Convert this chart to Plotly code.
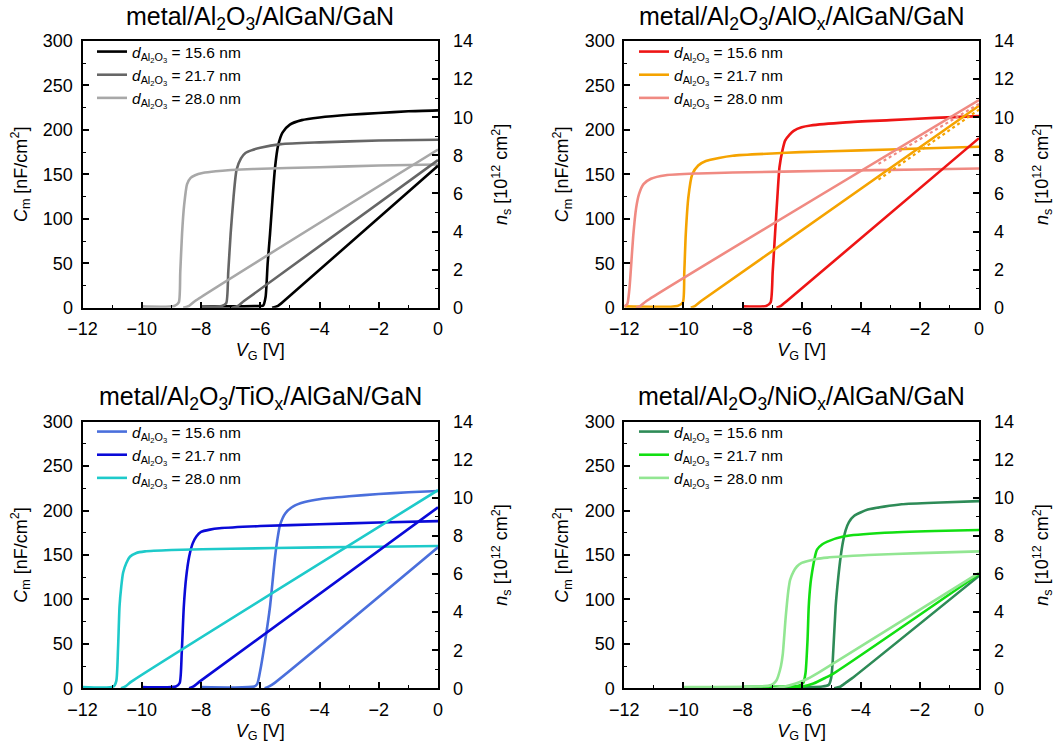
import plotly.graph_objects as go

FONT = "Liberation Sans, Arial, sans-serif"

# ---------------- data ----------------
thickness_labels = ["15.6", "21.7", "28.0"]

panel_titles = [
    "metal/Al<sub>2</sub>O<sub>3</sub>/AlGaN/GaN",
    "metal/Al<sub>2</sub>O<sub>3</sub>/AlO<sub>x</sub>/AlGaN/GaN",
    "metal/Al<sub>2</sub>O<sub>3</sub>/TiO<sub>x</sub>/AlGaN/GaN",
    "metal/Al<sub>2</sub>O<sub>3</sub>/NiO<sub>x</sub>/AlGaN/GaN",
]

# Panel 1: metal/Al2O3/AlGaN/GaN  (C in nF/cm2, ns in 1e12 cm^-2)
p1_cv_v_156 = [-8, -6.2, -5.9, -5.82, -5.75, -5.67, -5.58, -5.5, -5.4, -5.25, -5.0, -4.6, -4.0, -3.0, -2.0, -1.0, 0]
p1_cv_c_156 = [1.5, 1.8, 2.5, 12, 50, 83, 125, 158, 182, 197, 206, 211, 214, 217, 219, 221, 222]
p1_cv_v_217 = [-8, -7.3, -7.15, -7.08, -7.0, -6.9, -6.8, -6.65, -6.5, -6.3, -6.0, -5.3, -4.0, -2.0, 0]
p1_cv_c_217 = [1.5, 2, 5, 40, 83, 125, 155, 168, 174, 177, 180, 184, 186, 188, 189]
p1_cv_v_280 = [-10, -8.9, -8.75, -8.7, -8.64, -8.57, -8.47, -8.35, -8.2, -7.95, -7.5, -6.24, -4.0, -2.0, 0]
p1_cv_c_280 = [1.5, 2, 6, 40, 83, 115, 139, 146, 149, 151.5, 153.5, 156, 158, 160, 161]
p1_ns_v_156 = [-5.6, -5.4, -5.2, 0]
p1_ns_n_156 = [0, 0.1, 0.35, 7.45]
p1_ns_v_217 = [-6.95, -6.75, -6.55, 0]
p1_ns_n_217 = [0, 0.1, 0.35, 7.75]
p1_ns_v_280 = [-8.6, -8.4, -8.2, 0]
p1_ns_n_280 = [0, 0.1, 0.35, 8.3]

# Panel 2: metal/Al2O3/AlOx/AlGaN/GaN
p2_cv_v_156 = [-8, -7.2, -7.05, -6.98, -6.9, -6.82, -6.75, -6.65, -6.56, -6.4, -6.27, -6.0, -5.7, -4.5, -3.0, -1.5, 0]
p2_cv_c_156 = [1.5, 2, 6, 40, 83, 125, 158, 177, 188, 195, 199, 203, 205, 208.5, 211, 213.5, 215.5]
p2_cv_v_217 = [-12, -10.2, -10.02, -9.97, -9.92, -9.83, -9.7, -9.5, -9.24, -8.8, -8.33, -7, -6.05, -4, -2, 0]
p2_cv_c_217 = [1.5, 2, 6, 40, 83, 125, 150, 160, 165, 168.5, 171, 173.5, 175, 177, 179, 181]
p2_cv_v_280 = [-12, -11.9, -11.83, -11.78, -11.7, -11.6, -11.5, -11.35, -11.1, -10.6, -9.5, -8.33, -5, -2, 0]
p2_cv_c_280 = [1.5, 4, 20, 42, 80, 112, 128, 139, 145, 149, 151, 152, 154, 155.5, 156.5]
p2_ns_v_156 = [-6.85, -6.7, -6.5, 0]
p2_ns_n_156 = [0, 0.1, 0.35, 8.9]
p2_ns_v_217 = [-9.75, -9.6, -9.4, 0]
p2_ns_n_217 = [0, 0.1, 0.35, 10.6]
p2_ns_v_280 = [-11.6, -11.45, -11.25, 0]
p2_ns_n_280 = [0, 0.1, 0.35, 10.9]
p2_nsdot_v_217 = [-3.4, 0]
p2_nsdot_n_217 = [6.72, 10.4]
p2_nsdot_v_280 = [-3.4, 0]
p2_nsdot_n_280 = [7.55, 10.7]

# Panel 3: metal/Al2O3/TiOx/AlGaN/GaN
p3_cv_v_156 = [-8, -6.2, -6.1, -6.0, -5.85, -5.67, -5.5, -5.4, -5.33, -5.15, -4.87, -4.5, -3.96, -3, -2, -1, 0]
p3_cv_c_156 = [1.5, 2, 5, 20, 50, 92, 148, 172, 184, 197, 205, 209.5, 213, 216, 218.5, 220.5, 222]
p3_cv_v_217 = [-10, -8.85, -8.72, -8.65, -8.58, -8.5, -8.4, -8.28, -8.15, -8.0, -7.7, -7.38, -6, -4, -2, 0]
p3_cv_c_217 = [1.5, 2, 6, 40, 92, 125, 148, 163, 171, 176, 178.5, 180, 182.5, 184.5, 186.5, 188]
p3_cv_v_280 = [-12, -10.95, -10.86, -10.8, -10.75, -10.69, -10.63, -10.52, -10.4, -10.2, -9.89, -9, -7, -4, -2, 0]
p3_cv_c_280 = [1.5, 2, 8, 45, 92, 115, 130, 141, 148, 152, 154, 155.5, 157, 158.5, 159.3, 160]
p3_ns_v_156 = [-5.85, -5.7, -5.5, 0]
p3_ns_n_156 = [0, 0.1, 0.3, 7.4]
p3_ns_v_217 = [-8.4, -8.25, -8.05, 0]
p3_ns_n_217 = [0, 0.1, 0.35, 9.5]
p3_ns_v_280 = [-10.7, -10.55, -10.35, 0]
p3_ns_n_280 = [0, 0.1, 0.35, 10.4]

# Panel 4: metal/Al2O3/NiOx/AlGaN/GaN
p4_cv_v_156 = [-8, -5.3, -5.08, -5.0, -4.95, -4.85, -4.76, -4.68, -4.6, -4.51, -4.4, -4.22, -3.76, -2.62, -1.3, 0]
p4_cv_c_156 = [1.5, 2, 4, 12, 30, 92, 125, 148, 165, 178, 187, 194, 201, 207, 209, 210.5]
p4_cv_v_217 = [-8, -6.5, -6.1, -5.95, -5.87, -5.8, -5.76, -5.7, -5.65, -5.55, -5.48, -5.3, -5.13, -4.56, -3.19, -1.5, 0]
p4_cv_c_217 = [1.5, 2, 3, 6, 17, 55, 92, 118, 130, 148, 156, 162, 165, 171, 175, 177, 178]
p4_cv_v_280 = [-10, -7.5, -7.1, -6.96, -6.85, -6.79, -6.7, -6.64, -6.54, -6.45, -6.39, -6.28, -6.16, -6.0, -5.82, -5.5, -5.13, -4.5, -3.76, -2, 0]
p4_cv_c_280 = [1.5, 2, 3, 5, 9, 14, 25, 38, 80, 110, 122, 131, 137, 141, 143, 145.5, 147, 148.5, 150, 152, 154]
p4_ns_v_156 = [-4.9, -4.7, -4.5, -4.3, 0]
p4_ns_n_156 = [0, 0.08, 0.3, 0.52, 5.9]
p4_ns_v_217 = [-6.4, -6.0, -5.6, -5.2, -4.9, 0]
p4_ns_n_217 = [0, 0.08, 0.25, 0.55, 0.8, 6.0]
p4_ns_v_280 = [-7.0, -6.6, -6.2, -5.8, -5.4, 0]
p4_ns_n_280 = [0, 0.08, 0.25, 0.5, 0.85, 6.06]

p1_colors = ["#000000", "#666666", "#a8a8a8"]
p2_colors = ["#ee1515", "#f5a300", "#f08a82"]
p3_colors = ["#4a6fdc", "#0a0ad8", "#1ecaca"]
p4_colors = ["#2e8b57", "#12df12", "#92e692"]

panels = [
    dict(cv=[(p1_cv_v_156, p1_cv_c_156), (p1_cv_v_217, p1_cv_c_217), (p1_cv_v_280, p1_cv_c_280)],
         ns=[(p1_ns_v_156, p1_ns_n_156), (p1_ns_v_217, p1_ns_n_217), (p1_ns_v_280, p1_ns_n_280)],
         dots=[], colors=p1_colors),
    dict(cv=[(p2_cv_v_156, p2_cv_c_156), (p2_cv_v_217, p2_cv_c_217), (p2_cv_v_280, p2_cv_c_280)],
         ns=[(p2_ns_v_156, p2_ns_n_156), (p2_ns_v_217, p2_ns_n_217), (p2_ns_v_280, p2_ns_n_280)],
         dots=[(1, p2_nsdot_v_217, p2_nsdot_n_217), (2, p2_nsdot_v_280, p2_nsdot_n_280)], colors=p2_colors),
    dict(cv=[(p3_cv_v_156, p3_cv_c_156), (p3_cv_v_217, p3_cv_c_217), (p3_cv_v_280, p3_cv_c_280)],
         ns=[(p3_ns_v_156, p3_ns_n_156), (p3_ns_v_217, p3_ns_n_217), (p3_ns_v_280, p3_ns_n_280)],
         dots=[], colors=p3_colors),
    dict(cv=[(p4_cv_v_156, p4_cv_c_156), (p4_cv_v_217, p4_cv_c_217), (p4_cv_v_280, p4_cv_c_280)],
         ns=[(p4_ns_v_156, p4_ns_n_156), (p4_ns_v_217, p4_ns_n_217), (p4_ns_v_280, p4_ns_n_280)],
         dots=[], colors=p4_colors),
]

# ---------------- layout geometry (pixels -> paper) ----------------
W, H = 1060, 747
x_domains = [(82.5 / W, 438 / W), (624.3 / W, 979 / W)]
y_domains = [(1 - 307.7 / H, 1 - 41 / H), (1 - 688.3 / H, 1 - 421.6 / H)]

fig = go.Figure()

for k, p in enumerate(panels):
    col, row = k % 2, k // 2
    xa = "x" if k == 0 else f"x{k+1}"
    yl = "y" if k == 0 else f"y{2*k+1}"
    yr = f"y{2*k+2}"
    leg = "legend" if k == 0 else f"legend{k+1}"
    for i, (v, c) in enumerate(p["cv"]):
        fig.add_trace(go.Scatter(
            x=v, y=c, mode="lines", xaxis=xa, yaxis=yl,
            line=dict(color=p["colors"][i], width=2.6, shape="spline", smoothing=0.6),
            name=f"<i>d</i><sub>Al<sub>2</sub>O<sub>3</sub></sub> = {thickness_labels[i]} nm",
            legend=leg, showlegend=True))
    for i, (v, n) in enumerate(p["ns"]):
        fig.add_trace(go.Scatter(
            x=v, y=n, mode="lines", xaxis=xa, yaxis=yr,
            line=dict(color=p["colors"][i], width=2.6, shape="spline", smoothing=0.6),
            showlegend=False, hoverinfo="skip"))
    for i, v, n in p["dots"]:
        fig.add_trace(go.Scatter(
            x=v, y=n, mode="lines", xaxis=xa, yaxis=yr,
            line=dict(color=p["colors"][i], width=2.2, dash="dot"),
            showlegend=False, hoverinfo="skip"))

    xd = x_domains[col]
    yd = y_domains[row]
    tickfont = dict(family=FONT, size=18, color="black")
    titlefont = dict(family=FONT, size=18, color="black")
    xkey = "xaxis" if k == 0 else f"xaxis{k+1}"
    ylkey = "yaxis" if k == 0 else f"yaxis{2*k+1}"
    yrkey = f"yaxis{2*k+2}"
    fig.layout[xkey] = dict(
        domain=list(xd), anchor=yl, range=[-12, 0], dtick=2, tick0=0,
        ticks="inside", ticklen=6, tickwidth=1.5, tickcolor="black",
        minor=dict(dtick=1, ticks="inside", ticklen=3, tickcolor="black", tickwidth=1.2),
        showline=True, linecolor="black", linewidth=2, mirror=True, automargin=False,
        showgrid=False, zeroline=False, tickfont=tickfont, ticklabelstandoff=4,
        title=dict(text="<i>V</i><sub>G</sub> [V]", font=titlefont, standoff=5))
    fig.layout[ylkey] = dict(
        domain=list(yd), anchor=xa, range=[0, 300], dtick=50,
        ticks="inside", ticklen=6, tickwidth=1.5, tickcolor="black",
        minor=dict(dtick=25, ticks="inside", ticklen=3, tickcolor="black", tickwidth=1.2),
        showline=True, linecolor="black", linewidth=2, mirror=True, automargin=False,
        showgrid=False, zeroline=False, tickfont=tickfont, ticklabelstandoff=4,
        title=dict(text="<i>C</i><sub>m</sub> [nF/cm<sup>2</sup>]", font=titlefont, standoff=11))
    fig.layout[yrkey] = dict(
        overlaying=yl, side="right", anchor=xa, range=[0, 14], dtick=2,
        ticks="inside", ticklen=6, tickwidth=1.5, tickcolor="black",
        minor=dict(dtick=1, ticks="inside", ticklen=3, tickcolor="black", tickwidth=1.2),
        showline=False, showgrid=False, zeroline=False, tickfont=tickfont, automargin=False,
        ticklabelstandoff=14,
        title=dict(text="<i>n</i><sub>s</sub> [10<sup>12</sup> cm<sup>2</sup>]", font=titlefont, standoff=22))

    # legend for this panel
    lx = (92 if col == 0 else 634) / W
    ly = 1 - (35 if row == 0 else 415) / H
    fig.layout[leg] = dict(
        x=lx, y=ly, xanchor="left", yanchor="top", bgcolor="rgba(0,0,0,0)",
        borderwidth=0, font=dict(family=FONT, size=15.5, color="black"),
        tracegroupgap=0, itemwidth=30)

    # panel title
    ty = 1 - (18 if row == 0 else 398) / H
    fig.add_annotation(
        text=panel_titles[k], xref=f"{xa} domain", x=0.5, yref="paper", y=ty,
        xanchor="center", yanchor="middle", showarrow=False,
        font=dict(family=FONT, size=25, color="black"))

fig.update_layout(
    width=W, height=H, margin=dict(l=0, r=0, t=0, b=0, autoexpand=False),
    paper_bgcolor="white", plot_bgcolor="white",
    font=dict(family=FONT, size=18, color="black"),
)

fig.write_html("out.html", config={"displayModeBar": False},
               post_script="document.body.style.margin='0';")
